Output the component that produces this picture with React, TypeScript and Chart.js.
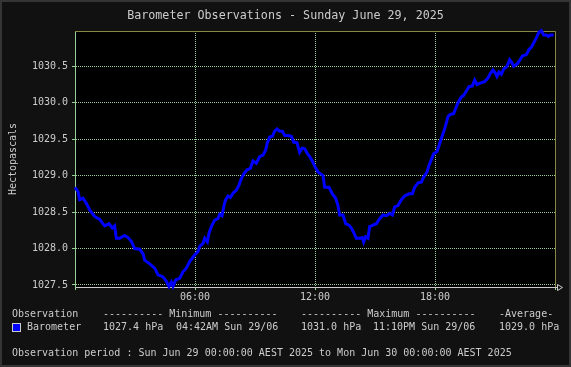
import React, { useEffect, useRef } from 'react';
import { Chart, registerables } from 'chart.js';

Chart.register(...registerables);

const TITLE = 'Barometer Observations - Sunday June 29, 2025';
const Y_TITLE = 'Hectopascals';
const X_TICK_LABELS: Record<number, string> = { 360: '06:00', 720: '12:00', 1080: '18:00' };
const Y_MIN = 1027.472;
const Y_MAX = 1030.984;

const minutes = [
  0, 9, 14, 24, 34, 44, 59, 74, 89, 102, 112, 119, 124, 134, 149, 159, 169, 179, 194, 204,
  209, 224, 239, 249, 264, 274, 282, 289, 294, 302, 314, 324, 334, 344, 359, 369, 374, 384, 389, 397,
  402, 409, 419, 429, 434, 441, 446, 451, 459, 466, 474, 484, 492, 499, 506, 516, 526, 534, 544, 554,
  564, 572, 577, 584, 592, 599, 606, 614, 622, 629, 639, 649, 656, 666, 674, 682, 689, 696, 704, 712,
  719, 729, 744, 749, 762, 772, 782, 789, 794, 804, 812, 822, 829, 836, 844, 854, 862, 866, 872, 879,
  884, 894, 904, 914, 924, 934, 944, 952, 959, 969, 979, 989, 1002, 1012, 1019, 1029, 1039, 1046, 1056, 1062,
  1069, 1076, 1086, 1092, 1099, 1106, 1112, 1119, 1126, 1136, 1142, 1149, 1159, 1166, 1174, 1182, 1192, 1199, 1206, 1216,
  1229, 1239, 1246, 1254, 1262, 1266, 1272, 1279, 1286, 1296, 1304, 1309, 1316, 1326, 1334, 1342, 1354, 1362, 1369, 1376,
  1384, 1392, 1399, 1406, 1414, 1420, 1426, 1436,
];

const pressure = [
  1028.84, 1028.78, 1028.67, 1028.69, 1028.62, 1028.53, 1028.44, 1028.40, 1028.31, 1028.34, 1028.28, 1028.31, 1028.14, 1028.14, 1028.18, 1028.15, 1028.10, 1028.00, 1027.99, 1027.93,
  1027.84, 1027.79, 1027.73, 1027.64, 1027.61, 1027.55, 1027.48, 1027.54, 1027.48, 1027.57, 1027.59, 1027.68, 1027.73, 1027.82, 1027.91, 1027.96, 1028.03, 1028.07, 1028.14, 1028.09,
  1028.21, 1028.30, 1028.39, 1028.41, 1028.47, 1028.45, 1028.57, 1028.66, 1028.72, 1028.70, 1028.76, 1028.80, 1028.87, 1028.96, 1029.02, 1029.08, 1029.10, 1029.20, 1029.17, 1029.26,
  1029.28, 1029.35, 1029.45, 1029.53, 1029.54, 1029.61, 1029.64, 1029.61, 1029.61, 1029.55, 1029.55, 1029.54, 1029.46, 1029.45, 1029.32, 1029.38, 1029.37, 1029.31, 1029.26, 1029.20,
  1029.13, 1029.05, 1029.00, 1028.84, 1028.84, 1028.75, 1028.69, 1028.59, 1028.46, 1028.46, 1028.34, 1028.32, 1028.28, 1028.22, 1028.14, 1028.14, 1028.15, 1028.09, 1028.16, 1028.14,
  1028.30, 1028.32, 1028.34, 1028.41, 1028.46, 1028.45, 1028.48, 1028.46, 1028.57, 1028.59, 1028.67, 1028.72, 1028.75, 1028.75, 1028.84, 1028.90, 1028.91, 1028.98, 1029.05, 1029.14,
  1029.22, 1029.30, 1029.33, 1029.41, 1029.51, 1029.60, 1029.69, 1029.81, 1029.84, 1029.85, 1029.92, 1030.00, 1030.08, 1030.10, 1030.16, 1030.22, 1030.23, 1030.31, 1030.25, 1030.27,
  1030.29, 1030.34, 1030.40, 1030.45, 1030.40, 1030.36, 1030.42, 1030.39, 1030.46, 1030.50, 1030.59, 1030.56, 1030.50, 1030.53, 1030.58, 1030.64, 1030.66, 1030.73, 1030.76, 1030.82,
  1030.89, 1030.97, 1030.99, 1030.93, 1030.93, 1030.91, 1030.93, 1030.93,
];

const SERIES_NAME = 'Barometer';
const HEAD_OBS = 'Observation';
const HEAD_MIN = '---------- Minimum ----------';
const HEAD_MAX = '---------- Maximum ----------';
const HEAD_AVG = '-Average-';
const MIN_VALUE = '1027.4 hPa';
const MIN_TIME = '04:42AM Sun 29/06';
const MAX_VALUE = '1031.0 hPa';
const MAX_TIME = '11:10PM Sun 29/06';
const AVG_VALUE = '1029.0 hPa';
const PERIOD = 'Observation period : Sun Jun 29 00:00:00 AEST 2025 to Mon Jun 30 00:00:00 AEST 2025';

const MONO = '"DejaVu Sans Mono", "Liberation Mono", monospace';
const TEXT = '#cccccc';
const GRID = '#99cc99';
const OLIVE = '#888844';
const BLUE = '#0000ff';

const framePlugin = {
  id: 'weewxFrame',
  beforeDraw(chart: any) {
    const { ctx, width, height, chartArea: a } = chart;
    ctx.save();
    ctx.fillStyle = '#353535';
    ctx.fillRect(0, 0, width, height);
    ctx.fillStyle = '#111111';
    ctx.fillRect(2, 2, width - 4, height - 4);
    ctx.fillStyle = '#000000';
    ctx.fillRect(a.left, a.top, a.right - a.left, a.bottom - a.top);
    ctx.restore();
  },
  beforeDatasetsDraw(chart: any) {
    const { ctx, chartArea: a } = chart;
    ctx.save();
    ctx.strokeStyle = OLIVE;
    ctx.lineWidth = 1;
    ctx.beginPath();
    ctx.moveTo(a.left, a.top + 0.5);
    ctx.lineTo(a.right + 0.5, a.top + 0.5);
    ctx.lineTo(a.right + 0.5, a.bottom);
    ctx.stroke();
    // axis arrow
    ctx.strokeStyle = TEXT;
    ctx.beginPath();
    ctx.moveTo(a.right + 0.5, a.bottom + 0.5);
    ctx.lineTo(a.right + 2.5, a.bottom + 0.5);
    ctx.moveTo(a.right + 2.5, a.bottom - 2.5);
    ctx.lineTo(a.right + 7.5, a.bottom + 0.5);
    ctx.lineTo(a.right + 2.5, a.bottom + 3.5);
    ctx.closePath();
    ctx.stroke();
    ctx.restore();
  },
  afterDraw(chart: any) {
    const { ctx, width } = chart;
    ctx.save();
    ctx.fillStyle = TEXT;
    ctx.textBaseline = 'middle';
    ctx.textAlign = 'center';
    ctx.font = `11.7px ${MONO}`;
    ctx.fillText(TITLE, width / 2, 16);

    ctx.font = `10px ${MONO}`;
    ctx.textAlign = 'left';
    const r1 = 314;
    const r2 = 327.5;
    const r3 = 353.5;
    ctx.fillText(HEAD_OBS, 12, r1);
    ctx.fillText(HEAD_MIN, 103, r1);
    ctx.fillText(HEAD_MAX, 301, r1);
    ctx.fillText(HEAD_AVG, 499, r1);
    ctx.fillText(SERIES_NAME, 27, r2);
    ctx.fillText(MIN_VALUE, 103, r2);
    ctx.fillText(MIN_TIME, 176, r2);
    ctx.fillText(MAX_VALUE, 301, r2);
    ctx.fillText(MAX_TIME, 373, r2);
    ctx.fillText(AVG_VALUE, 499, r2);
    ctx.fillText(PERIOD, 12, r3);
    ctx.fillStyle = BLUE;
    ctx.fillRect(12, 323, 9, 9);
    ctx.strokeStyle = TEXT;
    ctx.lineWidth = 1;
    ctx.strokeRect(12.5, 323.5, 8, 8);
    ctx.restore();
  },
};

export default function App() {
  const ref = useRef<HTMLCanvasElement | null>(null);

  useEffect(() => {
    if (!ref.current) return;
    const chart = new Chart(ref.current, {
      type: 'line',
      data: {
        datasets: [
          {
            label: SERIES_NAME,
            data: minutes.map((m, i) => ({ x: m, y: pressure[i] })),
            borderColor: BLUE,
            backgroundColor: BLUE,
            borderWidth: 3,
            pointRadius: 0,
            tension: 0,
            fill: false,
            clip: false as any,
          },
        ],
      },
      options: {
        responsive: false,
        animation: false,
        events: [],
        layout: { padding: { left: 0, top: 31, right: 16, bottom: 0 } },
        plugins: {
          legend: { display: false },
          tooltip: { enabled: false },
          title: { display: false },
        },
        scales: {
          x: {
            type: 'linear',
            min: 0,
            max: 1440,
            afterFit: (s: any) => {
              s.height = 80;
            },
            ticks: {
              stepSize: 360,
              maxRotation: 0,
              autoSkip: false,
              color: TEXT,
              padding: 1,
              font: { family: MONO, size: 10 },
              callback: (v: any) => X_TICK_LABELS[Number(v)] ?? '',
            },
            grid: {
              color: (c: any) =>
                c.tick && (c.tick.value === 0 || c.tick.value === 1440) ? 'rgba(0,0,0,0)' : GRID,
              lineWidth: 1,
              drawTicks: true,
              tickLength: 3,
              tickColor: GRID,
              tickBorderDash: [],
            },
            border: { display: true, color: '#cccccc', width: 1, dash: [1, 1] },
          },
          y: {
            type: 'linear',
            min: Y_MIN,
            max: Y_MAX,
            afterFit: (s: any) => {
              s.width = 75;
            },
            ticks: {
              stepSize: 0.5,
              includeBounds: false,
              color: TEXT,
              padding: 4,
              font: { family: MONO, size: 10 },
              callback: (v: any) => Number(v).toFixed(1),
            },
            grid: {
              color: GRID,
              lineWidth: 1,
              drawTicks: true,
              tickLength: 3,
              tickColor: GRID,
              tickBorderDash: [],
            },
            border: { display: true, color: GRID, width: 1, dash: [1, 1] },
            title: {
              display: true,
              text: Y_TITLE,
              color: TEXT,
              font: { family: MONO, size: 10, lineHeight: '12px' as any },
              padding: { top: 7, bottom: 0 },
            },
          },
        },
      },
      plugins: [framePlugin],
    });
    return () => chart.destroy();
  }, []);

  return (
    <div style={{ position: 'fixed', left: 0, top: 0, width: 571, height: 367 }}>
      <canvas ref={ref} width={571} height={367} style={{ display: 'block', width: 571, height: 367 }} />
    </div>
  );
}
